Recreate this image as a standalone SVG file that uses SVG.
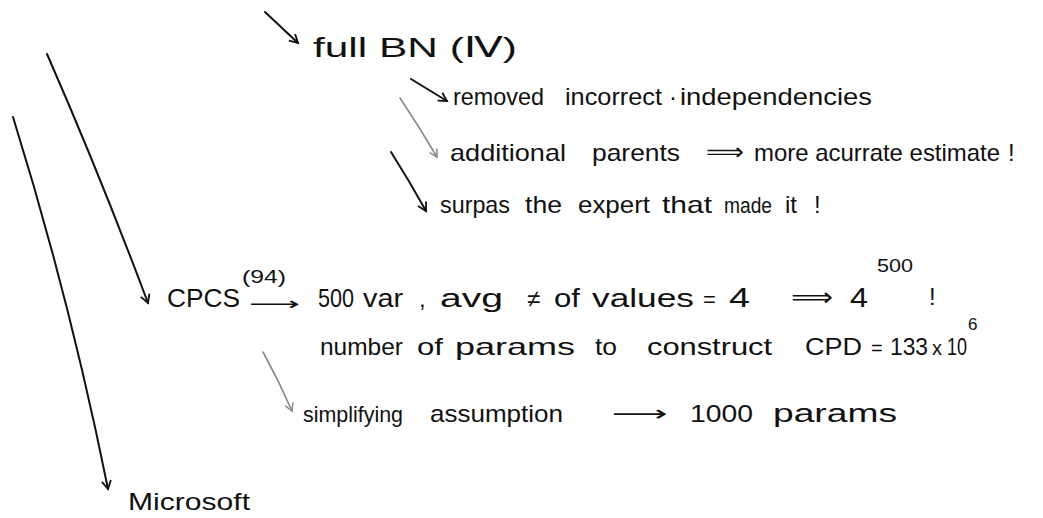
<svg xmlns="http://www.w3.org/2000/svg" width="1043" height="518" viewBox="0 0 1043 518">
  <style>
    .hw { font-family: "Liberation Sans", "DejaVu Sans", sans-serif; fill: #111; }
    .sym { font-family: "DejaVu Sans", sans-serif; fill: #111; }
    .ink { fill: none; stroke: #111; stroke-width: 2; stroke-linecap: round; }
    .pencil { fill: none; stroke: #888; stroke-width: 1.6; stroke-linecap: round; }
  </style>
  <defs>
    <marker id="headInk" viewBox="0 0 12 12" refX="10" refY="6" markerWidth="11" markerHeight="11" markerUnits="userSpaceOnUse" orient="auto">
      <path d="M1,1 L10,6 L1,11" fill="none" stroke="#111" stroke-width="2"/>
    </marker>
    <marker id="headPencil" viewBox="0 0 12 12" refX="10" refY="6" markerWidth="10" markerHeight="10" markerUnits="userSpaceOnUse" orient="auto">
      <path d="M1,1 L10,6 L1,11" fill="none" stroke="#888" stroke-width="1.8"/>
    </marker>
  </defs>

  <rect width="1043" height="518" fill="#fff"/>

  <!-- hand-drawn arrows linking the notes -->
  <g id="connectors">
    <path class="ink" d="M265,12 L298,43" marker-end="url(#headInk)"/>
    <path class="ink" d="M411,79 L447,101" marker-end="url(#headInk)"/>
    <path class="pencil" d="M400,98 Q420,128 437,157" marker-end="url(#headPencil)"/>
    <path class="ink" d="M391,152 Q410,182 426,211" marker-end="url(#headInk)"/>
    <path class="ink" d="M47,54 Q100,175 148,303" marker-end="url(#headInk)"/>
    <path class="ink" d="M13,117 Q70,300 108,489" marker-end="url(#headInk)"/>
    <path class="pencil" d="M263,352 Q279,381 292,411" marker-end="url(#headPencil)"/>
  </g>

  <g id="node-full-bn">
    <text class="hw" x="313" y="57" font-size="28" textLength="204" lengthAdjust="spacingAndGlyphs">full BN (Ⅳ)</text>
  </g>

  <g id="node-removed">
    <text class="hw" x="453" y="105" font-size="24" textLength="91" lengthAdjust="spacingAndGlyphs">removed</text>
    <text class="hw" x="565" y="105" font-size="24" textLength="97" lengthAdjust="spacingAndGlyphs">incorrect</text>
    <text class="hw" x="669" y="105" font-size="24">·</text>
    <text class="hw" x="680" y="105" font-size="24" textLength="192" lengthAdjust="spacingAndGlyphs">independencies</text>
  </g>

  <g id="node-additional">
    <text class="hw" x="450" y="161" font-size="24" textLength="116" lengthAdjust="spacingAndGlyphs">additional</text>
    <text class="hw" x="592" y="161" font-size="24" textLength="88" lengthAdjust="spacingAndGlyphs">parents</text>
    <text class="sym" x="706" y="160" font-size="24" textLength="38" lengthAdjust="spacingAndGlyphs">⟹</text>
    <text class="hw" x="754" y="161" font-size="24" textLength="246" lengthAdjust="spacingAndGlyphs">more acurrate estimate</text>
    <text class="hw" x="1008" y="161" font-size="24">!</text>
  </g>

  <g id="node-surpas">
    <text class="hw" x="440" y="213" font-size="24" textLength="70" lengthAdjust="spacingAndGlyphs">surpas</text>
    <text class="hw" x="525" y="213" font-size="24" textLength="37" lengthAdjust="spacingAndGlyphs">the</text>
    <text class="hw" x="578" y="213" font-size="24" textLength="72" lengthAdjust="spacingAndGlyphs">expert</text>
    <text class="hw" x="662" y="213" font-size="24" textLength="50" lengthAdjust="spacingAndGlyphs">that</text>
    <text class="hw" x="724" y="213" font-size="22" textLength="48" lengthAdjust="spacingAndGlyphs">made</text>
    <text class="hw" x="785" y="213" font-size="24">it</text>
    <text class="hw" x="814" y="213" font-size="24">!</text>
  </g>

  <g id="node-cpcs">
    <text class="hw" x="167" y="307" font-size="26" textLength="73" lengthAdjust="spacingAndGlyphs">CPCS</text>
    <text class="hw" x="242" y="283" font-size="18" textLength="44" lengthAdjust="spacingAndGlyphs">(94)</text>
    <text class="sym" x="249" y="310" font-size="18" textLength="51" lengthAdjust="spacingAndGlyphs">⟶</text>
    <text class="hw" x="318" y="307" font-size="25" textLength="36" lengthAdjust="spacingAndGlyphs">500</text>
    <text class="hw" x="363" y="307" font-size="25" textLength="40" lengthAdjust="spacingAndGlyphs">var</text>
    <text class="hw" x="419" y="307" font-size="24">,</text>
    <text class="hw" x="440" y="307" font-size="26" textLength="63" lengthAdjust="spacingAndGlyphs">avg</text>
    <text class="hw" x="527" y="307" font-size="24">≠</text>
    <text class="hw" x="554" y="307" font-size="25" textLength="26" lengthAdjust="spacingAndGlyphs">of</text>
    <text class="hw" x="592" y="307" font-size="26" textLength="102" lengthAdjust="spacingAndGlyphs">values</text>
    <text class="hw" x="703" y="307" font-size="22">=</text>
    <text class="hw" x="729" y="307" font-size="28" textLength="21" lengthAdjust="spacingAndGlyphs">4</text>
    <text class="sym" x="791" y="306" font-size="26" textLength="42" lengthAdjust="spacingAndGlyphs">⟹</text>
    <text class="hw" x="850" y="307" font-size="28" textLength="18" lengthAdjust="spacingAndGlyphs">4</text>
    <text class="hw" x="877" y="272" font-size="18" textLength="36" lengthAdjust="spacingAndGlyphs">500</text>
    <text class="hw" x="929" y="305" font-size="24">!</text>
  </g>

  <g id="node-params">
    <text class="hw" x="320" y="355" font-size="24" textLength="83" lengthAdjust="spacingAndGlyphs">number</text>
    <text class="hw" x="417" y="355" font-size="24" textLength="26" lengthAdjust="spacingAndGlyphs">of</text>
    <text class="hw" x="455" y="355" font-size="24" textLength="120" lengthAdjust="spacingAndGlyphs">params</text>
    <text class="hw" x="595" y="355" font-size="24" textLength="22" lengthAdjust="spacingAndGlyphs">to</text>
    <text class="hw" x="647" y="355" font-size="24" textLength="125" lengthAdjust="spacingAndGlyphs">construct</text>
    <text class="hw" x="805" y="355" font-size="24" textLength="57" lengthAdjust="spacingAndGlyphs">CPD</text>
    <text class="hw" x="871" y="355" font-size="20">=</text>
    <text class="hw" x="890" y="355" font-size="23" textLength="38" lengthAdjust="spacingAndGlyphs">133</text>
    <text class="hw" x="932" y="355" font-size="20">x</text>
    <text class="hw" x="947" y="355" font-size="23" textLength="20" lengthAdjust="spacingAndGlyphs">10</text>
    <text class="hw" x="968" y="330" font-size="17">6</text>
  </g>

  <g id="node-simplifying">
    <text class="hw" x="303" y="422" font-size="22" textLength="100" lengthAdjust="spacingAndGlyphs">simplifying</text>
    <text class="hw" x="430" y="422" font-size="24" textLength="133" lengthAdjust="spacingAndGlyphs">assumption</text>
    <text class="sym" x="612" y="421" font-size="22" textLength="56" lengthAdjust="spacingAndGlyphs">⟶</text>
    <text class="hw" x="690" y="422" font-size="24" textLength="63" lengthAdjust="spacingAndGlyphs">1000</text>
    <text class="hw" x="773" y="422" font-size="25" textLength="124" lengthAdjust="spacingAndGlyphs">params</text>
  </g>

  <g id="node-microsoft">
    <text class="hw" x="128" y="510" font-size="24" textLength="122" lengthAdjust="spacingAndGlyphs">Microsoft</text>
  </g>
</svg>
